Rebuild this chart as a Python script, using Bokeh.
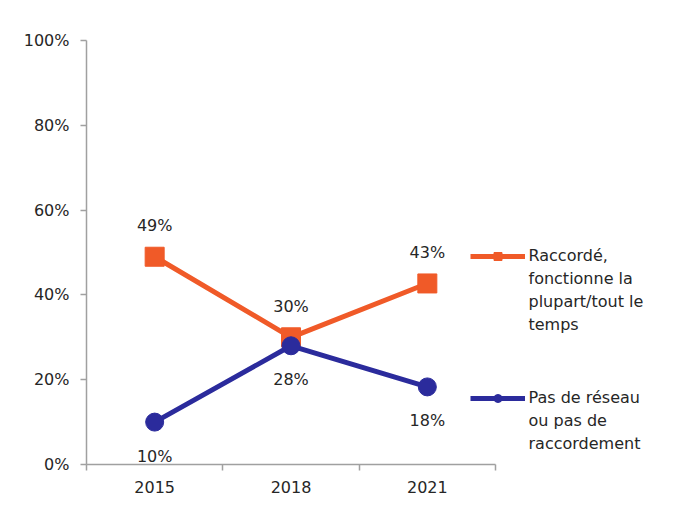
from bokeh.plotting import figure
from bokeh.models import (ColumnDataSource, LabelSet, Label, Legend, LegendItem, FixedTicker,
                          NumeralTickFormatter, Range1d)
from bokeh.core.properties import value
from bokeh.embed import file_html
from bokeh.resources import INLINE

years = ["2015", "2018", "2021"]
raccorde = [0.49, 0.30, 0.427]
pas_reseau = [0.10, 0.28, 0.183]
raccorde_labels = ["49%", "30%", "43%"]
pas_reseau_labels = ["10%", "28%", "18%"]
series_names = ["Raccordé,\nfonctionne la\nplupart/tout le\ntemps",
                "Pas de réseau\nou pas de\nraccordement"]
y_ticks = [0, 0.2, 0.4, 0.6, 0.8, 1.0]

ORANGE = "#F05A28"
BLUE = "#2B2B9C"
TEXT = "#262626"
AXIS = "#A0A0A0"
FONT = "DejaVu Sans"

W, H = 678, 509
LEFT, TOP, BOTTOM, RIGHT = 86, 40, 45, 5
AXIS_PX = 409  # pixel length of the category axis
frame_w = W - LEFT - RIGHT
n = len(years)
x_end = -0.5 + n * frame_w / AXIS_PX
px = n / AXIS_PX  # data units per pixel (x)

xs = list(range(n))
src_o = ColumnDataSource(dict(x=xs, y=raccorde, lab=raccorde_labels))
src_b = ColumnDataSource(dict(x=xs, y=pas_reseau, lab=pas_reseau_labels))

p = figure(width=W, height=H, output_backend="svg", toolbar_location=None,
           x_range=Range1d(-0.5, x_end), y_range=Range1d(0, 1),
           min_border_left=LEFT, min_border_right=RIGHT, min_border_top=TOP,
           min_border_bottom=BOTTOM)
p.outline_line_color = None
p.xgrid.visible = False
p.ygrid.visible = False
p.background_fill_color = "white"
p.border_fill_color = "white"

lo = p.line("x", "y", source=src_o, line_color=ORANGE, line_width=5)
so = p.scatter("x", "y", source=src_o, marker="square", size=19, fill_color=ORANGE, line_color=ORANGE)
lb = p.line("x", "y", source=src_b, line_color=BLUE, line_width=5)
sb = p.scatter("x", "y", source=src_b, marker="circle", size=18, fill_color=BLUE, line_color=BLUE)

p.add_layout(LabelSet(x="x", y="y", text="lab", source=src_o, y_offset=31,
                      text_align="center", text_baseline="middle", text_font=value(FONT),
                      text_font_size="16px", text_color=TEXT))
p.add_layout(LabelSet(x="x", y="y", text="lab", source=src_b, y_offset=-34,
                      text_align="center", text_baseline="middle", text_font=value(FONT),
                      text_font_size="16px", text_color=TEXT))

# x axis: labels at category centres, ticks at boundaries
p.xaxis.bounds = (-0.5, n - 0.5)
p.xaxis.ticker = FixedTicker(ticks=xs, minor_ticks=[i - 0.5 for i in range(n + 1)])
p.xaxis.major_label_overrides = {i: y for i, y in enumerate(years)}
p.xaxis.major_tick_line_color = None
p.xaxis.minor_tick_out = 6
p.xaxis.minor_tick_in = 0
p.xaxis.minor_tick_line_color = AXIS
p.xaxis.minor_tick_line_width = 1.5
p.xaxis.major_label_standoff = 10

p.yaxis.ticker = FixedTicker(ticks=y_ticks)
p.yaxis.formatter = NumeralTickFormatter(format="0%")
p.yaxis.minor_tick_line_color = None
p.yaxis.major_tick_out = 6
p.yaxis.major_tick_in = 0
p.yaxis.major_tick_line_color = AXIS
p.yaxis.major_tick_line_width = 1.5
p.yaxis.major_label_standoff = 11

for ax in (p.xaxis, p.yaxis):
    ax.axis_line_color = AXIS
    ax.axis_line_width = 1.5
    ax.major_label_text_font = FONT
    ax.major_label_text_font_size = "16px"
    ax.major_label_text_color = TEXT

def make_legend(item, loc):
    return Legend(items=[item], location=loc, orientation="vertical",
                  glyph_width=55, glyph_height=20, label_standoff=0,
                  label_text_font=FONT, label_text_font_size="16px", label_text_color=TEXT,
                  padding=0, margin=0, spacing=0,
                  border_line_color=None, background_fill_alpha=0)

# legend glyphs (label text drawn separately so that the glyph sits on the first line)
p.add_layout(make_legend(LegendItem(label=" ", renderers=[lo, so]), (384, 198)))
p.add_layout(make_legend(LegendItem(label=" ", renderers=[lb, sb]), (384, 56)))

text_x = -0.5 + (528 - LEFT) * px
for name, y_top in zip(series_names, [(464 - 245) / 424, (464 - 387) / 424]):
    p.add_layout(Label(x=text_x, y=y_top, text=name, text_align="left", text_baseline="top",
                       text_font=FONT, text_font_size="16px", text_color=TEXT,
                       text_line_height=1.22))

open("out.html", "w").write(file_html(p, INLINE))
